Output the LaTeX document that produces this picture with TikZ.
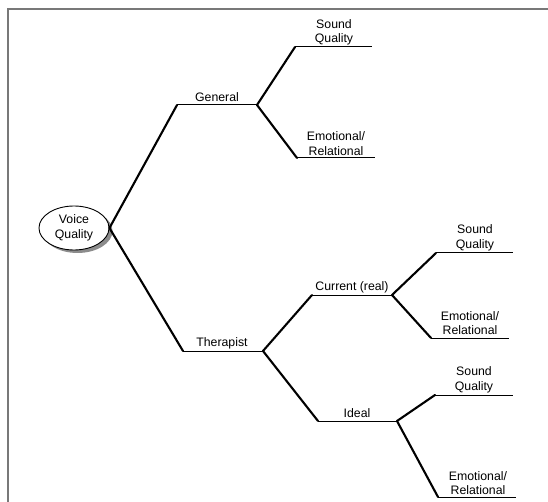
\documentclass[tikz,border=0pt]{standalone}
\usepackage{fontspec}
\setmainfont{Liberation Sans}
\usetikzlibrary{shapes.geometric}
\definecolor{framegray}{RGB}{120,120,120}
\definecolor{shadowgray}{RGB}{140,140,140}
\begin{document}
\begin{tikzpicture}[x=1pt,y=-1pt,
  diag/.style={line width=2.1pt, line cap=round},
  hor/.style={line width=1pt},
  lbl/.style={font=\fontsize{12.3}{14.6}\selectfont, align=center, inner sep=0pt},
  frameline/.style={draw=framegray, line width=2pt},
  oval/.style={ellipse, draw, line width=0.9pt, fill=white, minimum width=70pt, minimum height=44pt, inner sep=0pt}]
\useasboundingbox (0,0) rectangle (548,502);
\draw[frameline] (8,502) -- (8,9) -- (548,9);
% root ellipse with shadow
\node[oval, draw=none, fill=shadowgray] (vqshadow) at (77.5,231) {};
\node[oval, lbl] (vq) at (74,228) {Voice\\Quality};
% points
\coordinate (gA) at (177,105); \coordinate (gB) at (257,105);
\coordinate (tA) at (183,351); \coordinate (tB) at (263,351);
\coordinate (gsA) at (295,47); \coordinate (gsB) at (372,47);
\coordinate (geA) at (297,158); \coordinate (geB) at (375,158);
\coordinate (cA) at (312,295); \coordinate (cB) at (392,295);
\coordinate (iA) at (318,421); \coordinate (iB) at (397,421);
\coordinate (csA) at (436,253); \coordinate (csB) at (513,253);
\coordinate (ceA) at (431,338); \coordinate (ceB) at (509,338);
\coordinate (isA) at (435,395); \coordinate (isB) at (513,395);
\coordinate (ieA) at (438,497); \coordinate (ieB) at (516,497);
% connectors
\draw[diag] (vq.east) -- (gA);
\draw[hor] (gA) -- (gB);
\draw[diag] (vq.east) -- (tA);
\draw[hor] (tA) -- (tB);
\draw[diag] (gB) -- (gsA); \draw[hor] (gsA) -- (gsB);
\draw[diag] (gB) -- (geA); \draw[hor] (geA) -- (geB);
\draw[diag] (tB) -- (cA); \draw[hor] (cA) -- (cB);
\draw[diag] (tB) -- (iA); \draw[hor] (iA) -- (iB);
\draw[diag] (cB) -- (csA); \draw[hor] (csA) -- (csB);
\draw[diag] (cB) -- (ceA); \draw[hor] (ceA) -- (ceB);
\draw[diag] (iB) -- (isA); \draw[hor] (isA) -- (isB);
\draw[diag] (iB) -- (ieA); \draw[hor] (ieA) -- (ieB);
% labels
\node[lbl] (lgen) at (217,97) {General};
\node[lbl] (lther) at (222,343) {Therapist};
\node[lbl] (lcur) at (352,287) {Current (real)};
\node[lbl] (lideal) at (357,413) {Ideal};
\node[lbl] (lgs) at (334,32.5) {Sound\\Quality};
\node[lbl] (lge) at (336,143.5) {Emotional/\\Relational};
\node[lbl] (lcs) at (475,238) {Sound\\Quality};
\node[lbl] (lce) at (470,323) {Emotional/\\Relational};
\node[lbl] (lis) at (474,380) {Sound\\Quality};
\node[lbl] (lie) at (478,483) {Emotional/\\Relational};
\end{tikzpicture}
\end{document}
